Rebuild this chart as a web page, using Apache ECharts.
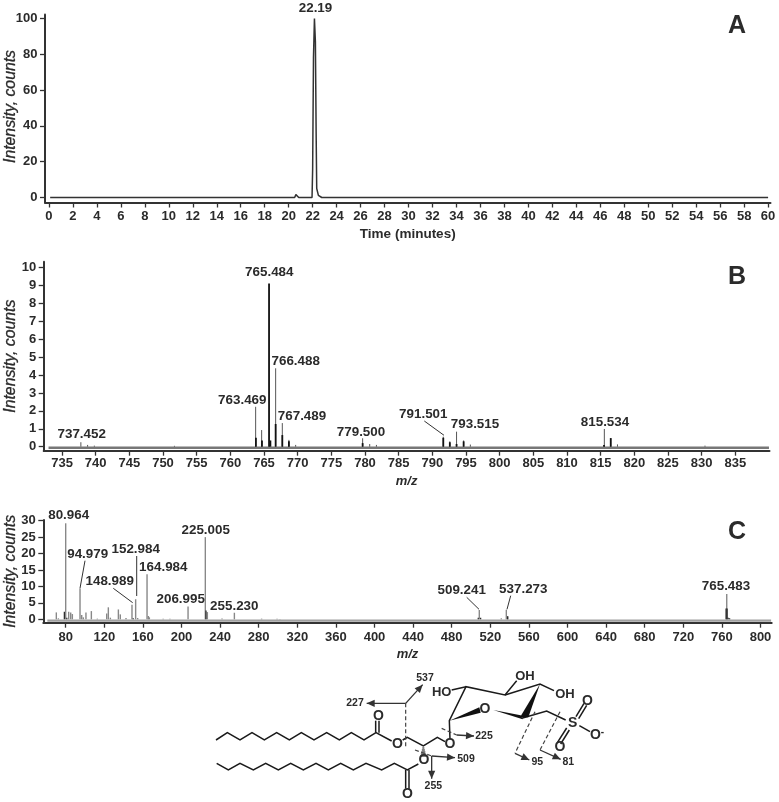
<!DOCTYPE html>
<html><head><meta charset="utf-8">
<style>html,body{margin:0;padding:0;background:#fff}#c{width:779px;height:802px}</style>
<script src="https://cdn.jsdelivr.net/npm/echarts@6/dist/echarts.min.js"></script>
</head><body><div id="c"></div>
<script>
// ---------- data ----------
const traceA = [[0.1,0],[20.5,0],[20.6,1.6],[20.76,0.8],[20.84,0],[21.95,0],[22.0,15.7],[22.07,78],[22.15,100],[22.23,87],[22.29,37],[22.34,5],[22.48,1.2],[22.76,0],[60,0]];
const ticksAx = [0,2,4,6,8,10,12,14,16,18,20,22,24,26,28,30,32,34,36,38,40,42,44,46,48,50,52,54,56,58,60];
const ticksAy = [0,20,40,60,80,100];

const sticksB = [[737.8,0.25],[738.8,0.1],[739.8,0.06],[751.7,0.05],[763.76,2.23],[764.65,0.93],[766.73,4.38],[767.72,1.32],[768.7,0.38],[769.7,0.1],[779.65,0.47],[780.7,0.15],[781.7,0.1],[791.63,0.56],[792.6,0.3],[793.6,0.84],[794.65,0.35],[795.65,0.12],[815.55,0.99],[816.5,0.48],[817.5,0.13],[830.5,0.06]];
const coreB = [[763.8,0.5],[764.7,0.35],[765.75,9.12],[765.95,0.35],[766.73,1.27],[767.72,0.65],[768.7,0.3],[779.65,0.2],[791.63,0.5],[792.6,0.25],[793.6,0.15],[794.65,0.3],[815.5,0.1],[816.5,0.48]];
const baseB = [[733,-0.06],[840,-0.06]];
const ticksBx = [735,740,745,750,755,760,765,770,775,780,785,790,795,800,805,810,815,820,825,830,835];
const ticksBy = [0,1,2,3,4,5,6,7,8,9,10];

const sticksC = [[70.3,2.1],[72.4,0.3],[80,29.2],[83.1,2.3],[85.2,2.1],[86.9,1.6],[94.85,9.4],[96.6,1.3],[98.3,0.6],[101,2.1],[106.6,2.5],[112.8,0.2],[122.5,1.8],[124.2,3.65],[126.3,0.5],[134.6,3],[136.6,1.5],[142.5,0.4],[148.7,4.4],[152.5,6.1],[154.6,0.4],[164.3,13.7],[165.7,1],[166.7,0.6],[181,0.15],[188,0.15],[206.8,3.9],[224.7,25],[226.8,2.2],[242,0.25],[254.8,2],[283,0.2],[299,0.2],[302,0.1],[508.6,2.8],[536.6,2.9],[538,0.9],[531.4,0.3],[765,7.7]];
const coreC = [[78.6,2.3],[81.2,0.5],[225.4,2.7],[150,0.3],[507.5,0.5],[510,0.5],[538,0.9],[764.3,3.3],[765.4,3.3],[766.5,0.5],[768,0.3]];
const baseC = [[61,-0.4],[811,-0.4]];
const ticksCx = [80,120,160,200,240,280,320,360,400,440,480,520,560,600,640,680,720,760,800];
const ticksCy = [0,5,10,15,20,25,30];

const peakLabels = ['22.19','765.484','766.488','763.469','767.489','779.500','791.501','793.515','815.534','737.452','80.964','94.979','152.984','148.989','164.984','225.005','206.995','255.230','509.241','537.273','765.483'];
const panelLetters = ['A','B','C'];
const fragmentLabels = ['537','227','225','509','255','95','81'];

// ---------- layout (pixels) ----------
const labelPos = [[315.5,8.5],[269.3,272.3],[295.7,361.7],[242.3,400.3],[302,416],[361,432.7],[423.3,414.7],[475,424.3],[605,422],[81.7,434],[68.7,515.3],[87.7,554.3],[135.7,549.3],[109.7,581],[163.3,567.7],[205.7,530.7],[180.7,599.7],[234.3,606],[461.7,590.7],[523.3,589],[726,586.7]];
const leaders = [[424.3,421,444,435.3],[85,560.7,80,588.3],[136.7,556,136.7,596],[113.3,588.3,132.7,602.7],[466.7,597.3,479,609.3],[510.7,595.7,507,609.3]];
const letterPos = [[737,26],[737,277],[737,532]];
const FONT = '"Liberation Sans",Arial,sans-serif', INK = '#2b2b2b';

const g = [];
const text = (t,x,y,size,weight) => g.push({type:'text',x,y,silent:true,z:20,style:{text:t,font:`${weight||'bold'} ${size}px ${FONT}`,fill:INK,align:'center',verticalAlign:'middle'}});
const line = (pts,w,dash,col) => g.push({type:'polyline',silent:true,z:15,shape:{points:pts},style:{stroke:col||'#1a1a1a',lineWidth:w||1.3,fill:null,lineDash:dash||null,lineJoin:'miter'}});
const poly = (pts,col) => g.push({type:'polygon',silent:true,z:15,shape:{points:pts},style:{fill:col||'#111'}});

peakLabels.forEach((t,i)=>text(t,labelPos[i][0],labelPos[i][1],13.4));
leaders.forEach(l=>line([[l[0],l[1]],[l[2],l[3]]],1,null,'#333'));
panelLetters.forEach((t,i)=>text(t,letterPos[i][0],letterPos[i][1],25));

// molecule, traced in the zoom coordinates of the reference
const Z = (x,y)=>[200+x/3,660+y/3];
const Y = (x,y)=>[210+x/3,690+y/3];
const zs = a=>a.map(p=>Z(p[0],p[1])), ys = a=>a.map(p=>Y(p[0],p[1]));
const MOL = 1.5;
line(ys([[18,150],[52,128],[90,150],[126,128],[163,150],[200,128],[238,150],[274,128],[312,150],[350,128],[388,150],[424,128],[462,150],[498,128],[545,153]]),MOL);
line(ys([[20,220],[55,240],[90,220],[130,240],[167,220],[205,240],[242,220],[280,240],[318,220],[355,240],[392,220],[430,240],[468,220],[515,240],[553,220],[592,240],[625,222]]),MOL);
line(ys([[497,128],[497,92]]),MOL); line(ys([[507,128],[507,92]]),MOL);
line(ys([[587,240],[587,296]]),MOL); line(ys([[597,240],[597,296]]),MOL);
text('O',Y(505,78)[0],Y(505,78)[1],14,'bold');
text('O',Y(592,312)[0],Y(592,312)[1],14,'bold');
text('O',Z(592,252)[0],Z(592,252)[1],14,'bold');
text('O',Z(750,252)[0],Z(750,252)[1],14,'bold');
text('O',Z(672,300)[0],Z(672,300)[1],14,'bold');
text('O',Z(855,148)[0],Z(855,148)[1],14,'bold');
text('HO',Z(725,97)[0],Z(725,97)[1],13,'bold');
text('OH',Z(975,48)[0],Z(975,48)[1],13,'bold');
text('OH',Z(1095,103)[0],Z(1095,103)[1],13,'bold');
text('S',Z(1118,188)[0],Z(1118,188)[1],14,'bold');
text('O',Z(1162,123)[0],Z(1162,123)[1],14,'bold');
text('O',Z(1080,262)[0],Z(1080,262)[1],14,'bold');
text('O',Z(1186,225)[0],Z(1186,225)[1],14,'bold');
text('-',Z(1207,216)[0],Z(1207,216)[1],10,'bold');
line(zs([[608,240],[622,232],[670,258],[712,232],[735,245]]),MOL);
line(zs([[750,238],[748,182],[798,80],[915,105],[950,62]]),MOL);
line(zs([[915,105],[1020,72],[1062,92]]),MOL);
line(zs([[798,80],[755,90]]),MOL);
line(zs([[965,175],[1040,153],[1097,180]]),MOL);
line(zs([[1128,170],[1152,130]]),MOL); line(zs([[1136,176],[1160,136]]),MOL);
line(zs([[1100,204],[1072,248]]),MOL); line(zs([[1108,210],[1082,252]]),MOL);
line(zs([[1138,197],[1170,215]]),MOL);
poly(zs([[748,182],[838,142],[842,158]]));
poly(zs([[880,150],[962,166],[968,178]]));
poly(zs([[1020,72],[960,172],[985,172]]));
for(let i=0;i<5;i++){const y=264+i*6,w=3+i*1.5;line(zs([[670-w,y],[670+w,y]]),1.1);}
// fragmentation marks
const DASH=[4,2.5], ARW='#333';
const arrow=(a,b)=>{const A=Z(a[0],a[1]),B=Z(b[0],b[1]);line([A,B],1.3,null,ARW);const d=Math.atan2(B[1]-A[1],B[0]-A[0]),l=8,h=3.6;poly([B,[B[0]-l*Math.cos(d)+h*Math.sin(d),B[1]-l*Math.sin(d)-h*Math.cos(d)],[B[0]-l*Math.cos(d)-h*Math.sin(d),B[1]-l*Math.sin(d)+h*Math.cos(d)]],ARW);};
line(zs([[617,130],[617,265]]),1.2,DASH,'#444');
arrow([617,130],[668,74]); arrow([617,130],[500,130]);
line(zs([[725,205],[770,225]]),1.2,DASH,'#444'); arrow([770,225],[822,228]);
line(zs([[645,270],[695,288]]),1.2,DASH,'#444'); arrow([695,288],[765,293]); arrow([695,288],[695,356]);
line(zs([[1005,155],[945,280]]),1.2,DASH,'#444'); arrow([945,280],[988,300]);
line(zs([[1080,155],[1020,270]]),1.2,DASH,'#444'); arrow([1020,270],[1082,298]);
const fragPos=[[675,55],[465,130],[852,228],[798,296],[700,378],[1012,305],[1105,305]];
fragmentLabels.forEach((t,i)=>{const p=Z(fragPos[i][0],fragPos[i][1]);text(t,p[0],p[1],10.5);});

// ---------- chart ----------
const stick = (data,col,w,z) => ({type:'custom',xAxisIndex:data.ax,yAxisIndex:data.ax,data:data.d,z:z,silent:true,clip:false,
  renderItem:(p,api)=>{const a=api.coord([api.value(0),0]),b=api.coord([api.value(0),api.value(1)]);
    return {type:'line',shape:{x1:a[0],y1:a[1],x2:b[0],y2:b[1]},style:{stroke:col,lineWidth:w}};},
  encode:{x:0,y:1}});
const baseLine = (ax,d,col,w,z)=>({type:'line',xAxisIndex:ax,yAxisIndex:ax,data:d,symbol:'none',silent:true,clip:false,z:z,lineStyle:{color:col,width:w}});

const xAxis = (i,min,max,ticks,name,gap,italic,margin)=>({type:'value',gridIndex:i,min,max,scale:true,
  name,nameLocation:'middle',nameGap:gap,nameMoveOverlap:false,nameTextStyle:{fontFamily:FONT,fontWeight:'bold',fontStyle:italic?'italic':'normal',fontSize:italic?13:13.5,color:INK},
  axisLine:{onZero:false,lineStyle:{color:'#333',width:2}},
  axisTick:{show:true,length:5,lineStyle:{color:'#333',width:1.3},customValues:ticks},
  axisLabel:{fontFamily:FONT,fontWeight:'bold',fontSize:13,color:INK,margin,hideOverlap:false,customValues:ticks,showMinLabel:true,showMaxLabel:true},
  splitLine:{show:false}});
const yAxis = (i,min,max,ticks,gap,shift)=>({type:'value',gridIndex:i,min,max,scale:true,
  name:'Intensity, counts',nameLocation:'middle',nameGap:gap,nameMoveOverlap:false,nameRotate:90,nameTextStyle:{fontFamily:FONT,fontStyle:'italic',fontWeight:'normal',fontSize:15.8,color:INK,textBorderColor:INK,textBorderWidth:0.3,padding:[0,0,0,shift]},
  axisLine:{onZero:false,lineStyle:{color:'#333',width:2}},
  axisTick:{show:true,length:5,lineStyle:{color:'#333',width:1.3},customValues:ticks},
  axisLabel:{fontFamily:FONT,fontWeight:'bold',fontSize:13,color:INK,margin:7.5,hideOverlap:false,customValues:ticks,showMinLabel:true,showMaxLabel:true},
  splitLine:{show:false}});

const chart = echarts.init(document.getElementById('c'),null,{renderer:'canvas'});
chart.setOption({
  animation:false,backgroundColor:'#fff',
  grid:[
    {left:45,top:14.5,width:725.5,height:188,containLabel:false,outerBoundsMode:'none'},
    {left:43.7,top:261.7,width:725.8,height:189,containLabel:false,outerBoundsMode:'none'},
    {left:43.3,top:520,width:728.4,height:102.7,containLabel:false,outerBoundsMode:'none'}
  ],
  xAxis:[
    xAxis(0,-0.33,60.2,ticksAx,'Time (minutes)',25,false,7),
    xAxis(1,732.28,840.08,ticksBx,'m/z',24,true,6.3),
    xAxis(2,56.8,811.6,ticksCx,'m/z',25,true,8.7)
  ],
  yAxis:[yAxis(0,-2.79,102.2,ticksAy,26.5,4),yAxis(1,-0.223,10.335,ticksBy,25.5,0),yAxis(2,-1.03,30.2,ticksCy,24.5,0)],
  series:[
    {type:'line',xAxisIndex:0,yAxisIndex:0,data:traceA,symbol:'none',silent:true,z:5,lineStyle:{color:'#333',width:1.5}},
    baseLine(1,baseB,'#777',2.4,3),
    stick({ax:1,d:sticksB},'#555',1,5),
    stick({ax:1,d:coreB},'#111',1.8,6),
    baseLine(2,baseC,'#a0a0a0',2.2,3),
    stick({ax:2,d:sticksC},'#888',1.4,5),
    stick({ax:2,d:coreC},'#222',1.2,6)
  ],
  graphic:g
});
</script></body></html>
